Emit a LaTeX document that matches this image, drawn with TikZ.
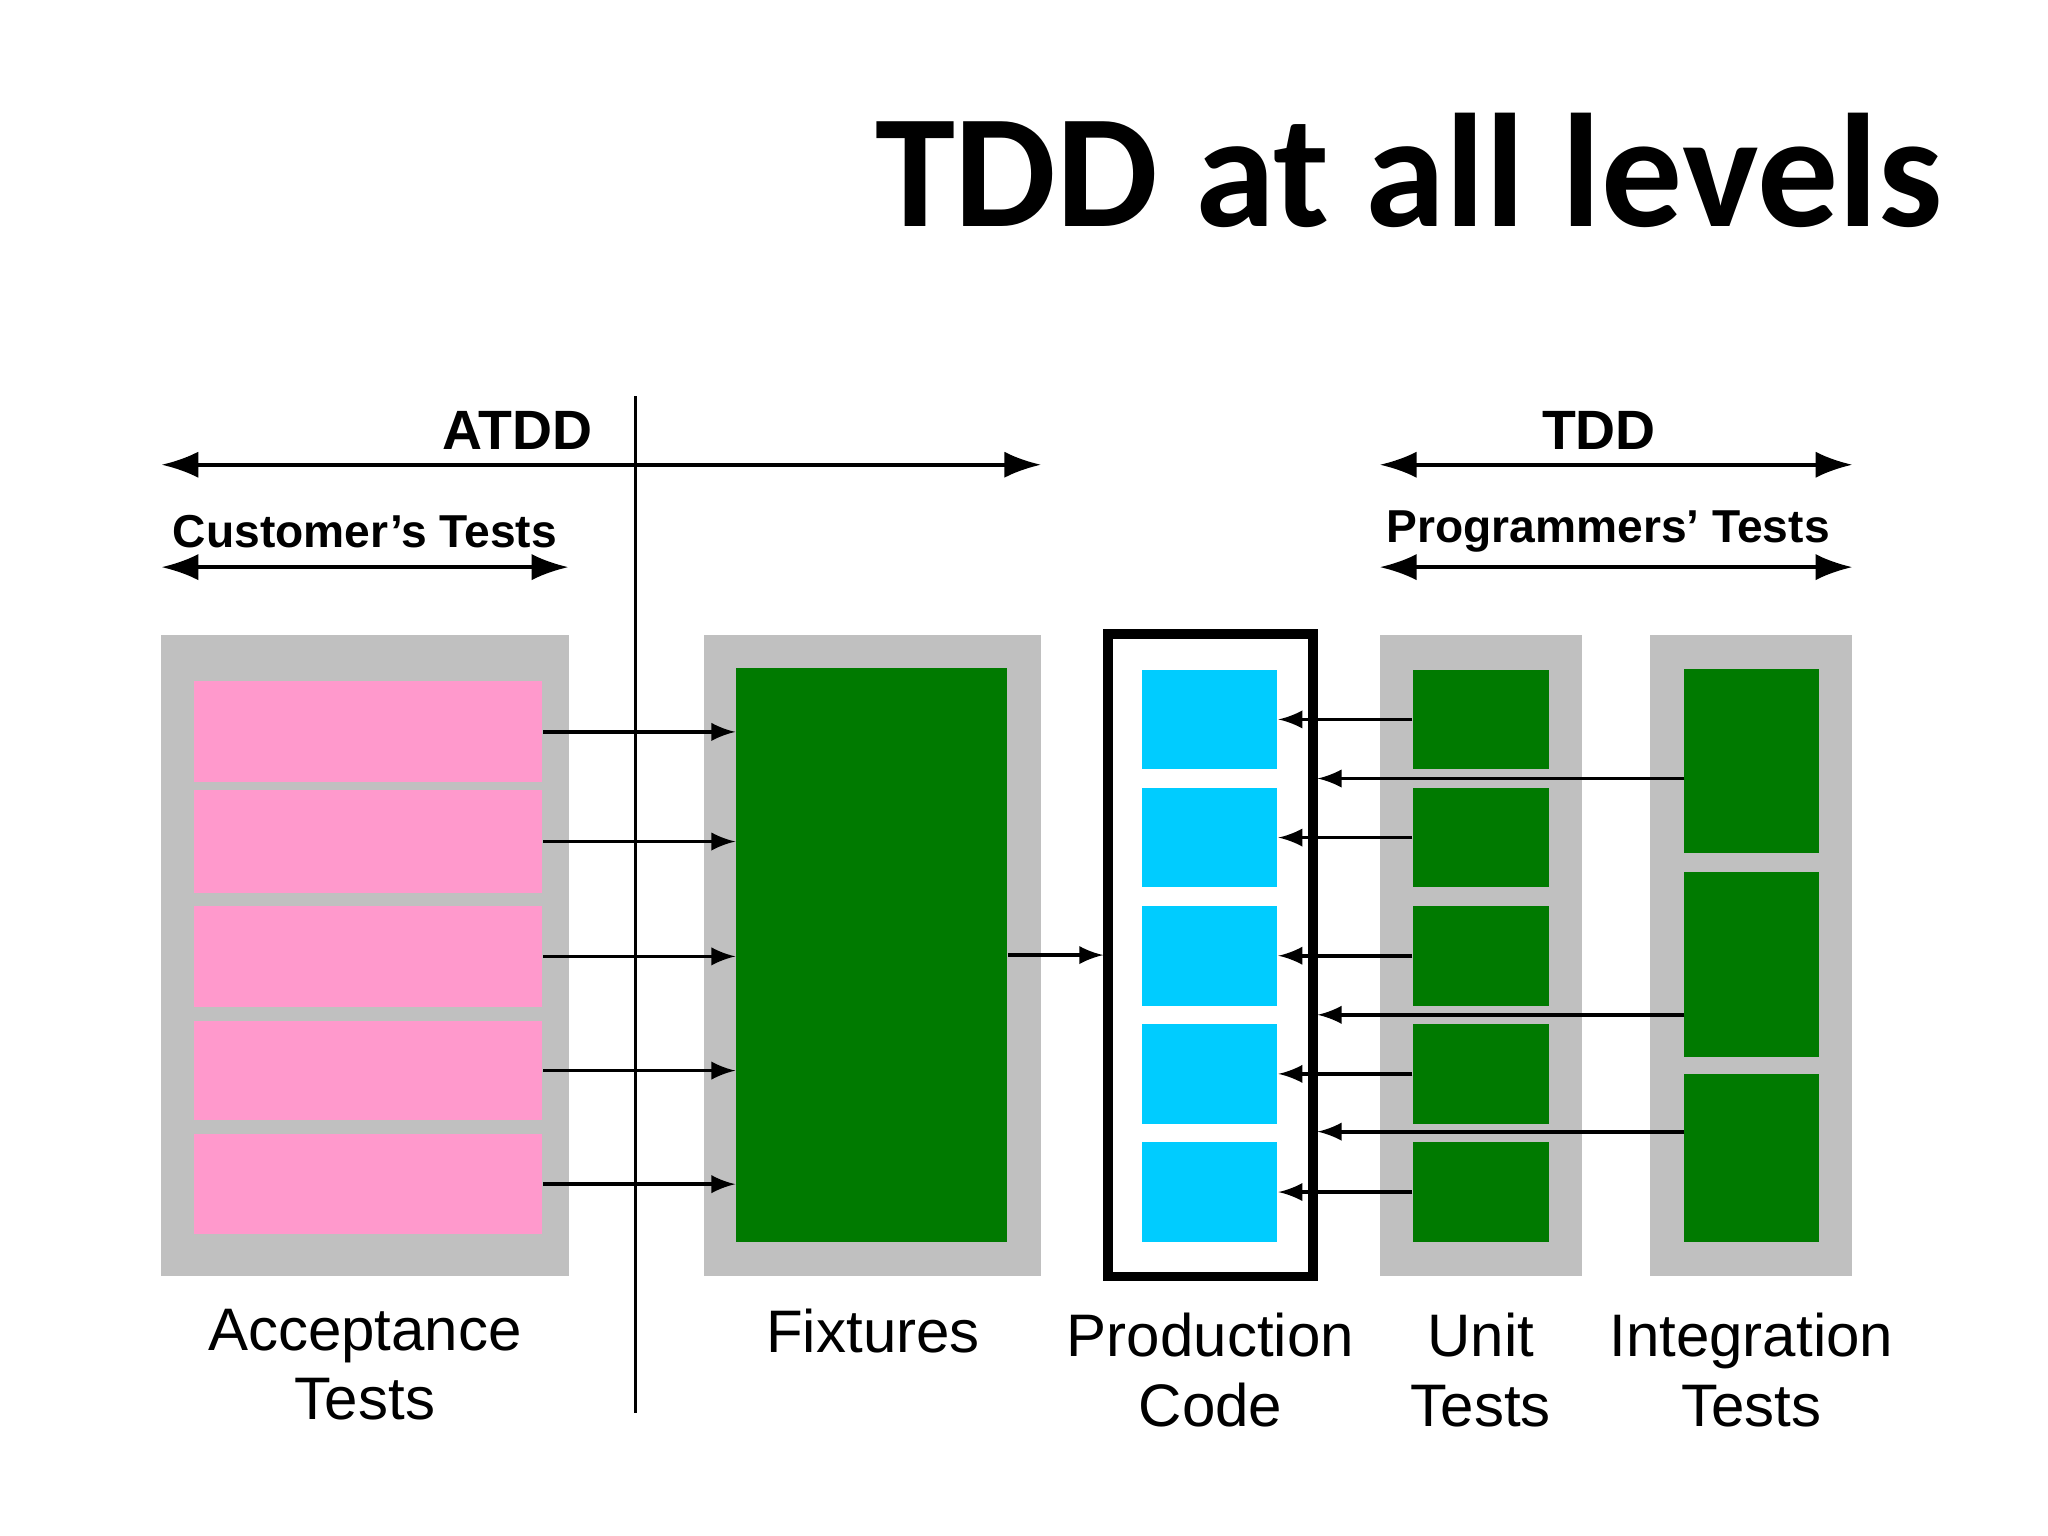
\documentclass[tikz,border=0pt]{standalone}
\usepackage{fontspec}
\usetikzlibrary{arrows.meta}
\setmainfont{Liberation Sans}
\newfontfamily\titlefont{Carlito}
\definecolor{boxgray}{RGB}{192,192,192}
\definecolor{testpink}{RGB}{255,153,204}
\definecolor{codegreen}{RGB}{0,122,0}
\definecolor{codecyan}{RGB}{0,204,255}
\begin{document}
\begin{tikzpicture}[x=0.01cm, y=-0.01cm, >=latex,
    frame/.style={fill=boxgray, draw=none, inner sep=0pt},
    pinkrow/.style={fill=testpink, draw=none, inner sep=0pt, minimum width=2.65cm},
    greenrow/.style={fill=codegreen, draw=none, inner sep=0pt, minimum width=1.03cm},
    cyanrow/.style={fill=codecyan, draw=none, inner sep=0pt, minimum width=1.03cm, minimum height=0.76cm},
    link/.style={->, thick},
    span/.style={{Latex[length=0.28cm,width=0.2cm]}-{Latex[length=0.28cm,width=0.2cm]}, thick},
    caption/.style={font=\fontsize{13}{15}\selectfont, align=center, anchor=north}]
    \useasboundingbox[fill=white] (0,0) rectangle (1560,1170);

    % --- TITLE ---
    \node[font=\titlefont\bfseries\fontsize{35}{40}\selectfont, anchor=east] (title) at (1492,130) {TDD at all levels};

    % --- GRAY FRAMES ---
    \node[frame, minimum width=3.10cm, minimum height=4.88cm] (accframe) at (278,728) {};
    \node[frame, minimum width=2.57cm, minimum height=4.88cm] (fixframe) at (664.5,728) {};
    \node[draw=black, line width=2pt, inner sep=0pt, minimum width=1.56cm, minimum height=4.89cm] (prodframe) at (922,727.5) {};
    \node[frame, minimum width=1.54cm, minimum height=4.88cm] (unitframe) at (1128,728) {};
    \node[frame, minimum width=1.54cm, minimum height=4.88cm] (intframe) at (1334,728) {};

    % --- ROWS ---
    \foreach \i/\y/\h in {1/557.5/0.77, 2/641/0.78, 3/728.5/0.77, 4/815.5/0.75, 5/902/0.76}
        \node[pinkrow, minimum height=\h cm] (p\i) at (280.5,\y) {};
    \node[fill=codegreen, inner sep=0pt, minimum width=2.06cm, minimum height=4.37cm] (fix) at (664,727.5) {};
    \foreach \i/\y in {1/548, 2/638, 3/728, 4/818, 5/908} {
        \node[cyanrow] (c\i) at (921.5,\y) {};
        \node[greenrow, minimum height=0.76cm] (u\i) at (1128,\y) {};
    }
    \node[greenrow, minimum height=1.40cm] (i1) at (1334,580) {};
    \node[greenrow, minimum height=1.41cm] (i2) at (1334,734.5) {};
    \node[greenrow, minimum height=1.28cm] (i3) at (1334,882) {};

    % --- CONNECTORS ---
    \foreach \i in {1,...,5} {
        \draw[link] (p\i.east) -- (fix.west |- p\i.east);
        \draw[link] (u\i.west) -- (c\i.east);
    }
    \draw[link] (fix.east) -- (prodframe.west);
    \foreach \i/\y in {1/593, 2/773, 3/862} {
        \coordinate (ia\i) at (1283,\y);
        \draw[link] (ia\i) -- (prodframe.east |- ia\i);
    }

    % --- SPANS AND DIVIDER ---
    \coordinate (divtop) at (484,302);
    \coordinate (divbot) at (484,1076);
    \draw[thick] (divtop) -- (divbot);
    \coordinate (atddL) at (123,354);
    \coordinate (atddR) at (793,354);
    \coordinate (custL) at (123,432);
    \coordinate (custR) at (433,432);
    \coordinate (tddL) at (1051,354);
    \coordinate (tddR) at (1411,354);
    \coordinate (progL) at (1051,432);
    \coordinate (progR) at (1411,432);
    \draw[span] (atddL) -- (atddR);
    \draw[span] (custL) -- (custR);
    \draw[span] (tddL) -- (tddR);
    \draw[span] (progL) -- (progR);
    \node[font=\bfseries\fontsize{12}{14}\selectfont] (atdd) at (394,328) {ATDD};
    \node[font=\bfseries\fontsize{12}{14}\selectfont] (tdd) at (1218,328) {TDD};
    \node[font=\bfseries\fontsize{10}{12}\selectfont] (cust) at (278,405) {Customer’s Tests};
    \node[font=\bfseries\fontsize{10}{12}\selectfont] (prog) at (1225,405) {Programmers’ Tests};

    % --- CAPTIONS ---
    \node[caption] (acccap) at (278,985) {Acceptance\\Tests};
    \node[caption] (fixcap) at (665,985) {Fixtures};
    \node[caption] (prodcap) at (922,988) {Production\\Code};
    \node[caption] (unitcap) at (1128,988) {Unit\\Tests};
    \node[caption] (intcap) at (1334,988) {Integration\\Tests};
\end{tikzpicture}
\end{document}
